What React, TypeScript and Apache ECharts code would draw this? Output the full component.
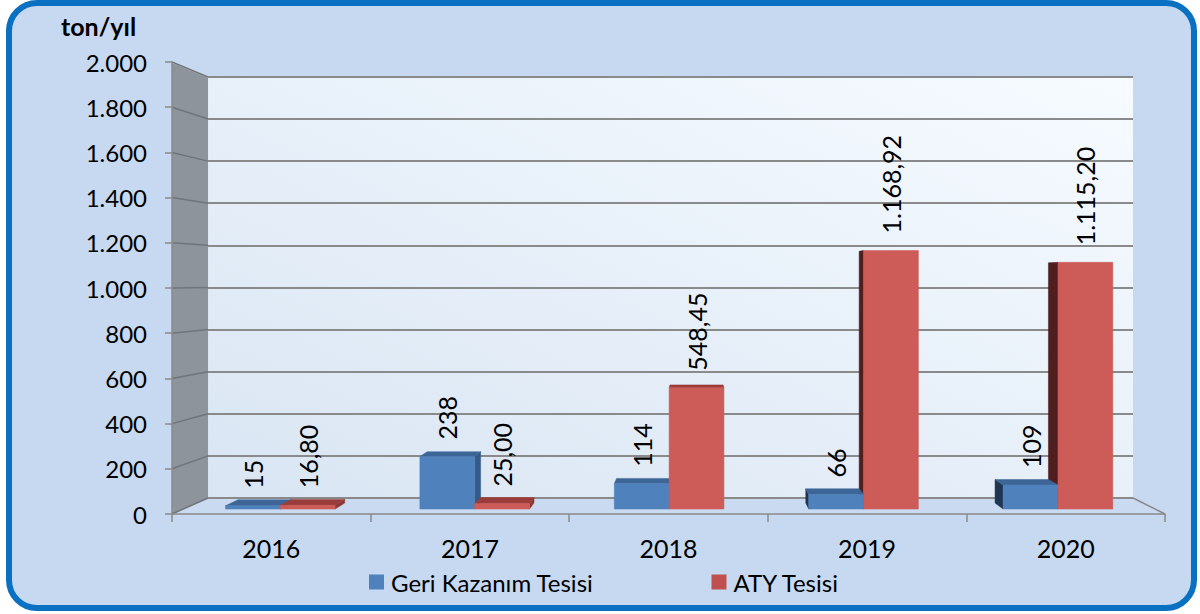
import React, { useEffect, useRef } from 'react';
import * as echarts from 'echarts';

// ---- data ----
const CATEGORIES = ['2016', '2017', '2018', '2019', '2020'];
const SERIES_NAMES = ['Geri Kazanım Tesisi', 'ATY Tesisi'];
const GERI_KAZANIM = [15, 238, 114, 66, 109];
const ATY = [16.8, 25.0, 548.45, 1168.92, 1115.2];
const Y_MIN = 0;
const Y_MAX = 2000;
const Y_STEP = 200;
const UNIT = 'ton/yıl';

// ---- layout / style ----
const W = 1200;
const H = 614;
const FRONT = { left: 172, right: 1165, top: 62, bottom: 514 };
const VP = [698, 280];
const DEPTH = 0.0685;
const BAR_KF = 0.021;
const BAR_KB = 0.047;
const BAR_FRAC = 0.282;
const FONT = 'Lato, "Open Sans", sans-serif';
const GRID_COLOR = '#8A8A8A';

const BLUE = { front: '#4F81BD', top: '#3D6697', right: '#345A88', left: '#1F3552' };
const RED = { front: '#CD5B57', top: '#9A3D3A', right: '#8E3835', left: '#4E1F1E' };

function proj(x: number, y: number, k: number): number[] {
  return [x + (VP[0] - x) * k, y + (VP[1] - y) * k];
}

function fmtNum(v: number, decimals: number): string {
  const fixed = v.toFixed(decimals);
  const parts = fixed.split('.');
  const intStr = parts[0].replace(/\B(?=(\d{3})+(?!\d))/g, '.');
  return parts[1] ? intStr + ',' + parts[1] : intStr;
}

function makeRender(side: number, colors: any, decimals: number) {
  return (params: any, api: any) => {
    const idx = api.value(0);
    const val = api.value(1);
    const base = api.coord([idx, 0]);
    const top = api.coord([idx, val]);
    const band = api.size([1, 0])[0];
    const w = band * BAR_FRAC;
    const xl = side === 0 ? base[0] - w : base[0];
    const xr = xl + w;
    const yb = base[1];
    const yt = top[1];
    const children: any[] = [];
    const poly = (pts: number[][], fill: string, z2: number) => ({
      type: 'polygon',
      shape: { points: pts },
      style: { fill, stroke: fill, lineWidth: 0.5 },
      z2,
    });
    if (xr <= VP[0]) {
      children.push(
        poly([proj(xr, yt, BAR_KF), proj(xr, yt, BAR_KB), proj(xr, yb, BAR_KB), proj(xr, yb, BAR_KF)], colors.right, 1)
      );
    } else if (xl >= VP[0]) {
      children.push(
        poly([proj(xl, yt, BAR_KF), proj(xl, yt, BAR_KB), proj(xl, yb, BAR_KB), proj(xl, yb, BAR_KF)], colors.left, 1)
      );
    }
    if (yt >= VP[1]) {
      children.push(
        poly([proj(xl, yt, BAR_KF), proj(xr, yt, BAR_KF), proj(xr, yt, BAR_KB), proj(xl, yt, BAR_KB)], colors.top, 2)
      );
    }
    children.push(
      poly([proj(xl, yt, BAR_KF), proj(xr, yt, BAR_KF), proj(xr, yb, BAR_KF), proj(xl, yb, BAR_KF)], colors.front, 10)
    );
    const lp = proj((xl + xr) / 2, yt, BAR_KF);
    children.push({
      type: 'text',
      x: lp[0],
      y: lp[1] - 17,
      rotation: Math.PI / 2,
      style: {
        text: fmtNum(val, decimals),
        fill: '#000',
        fontSize: 25,
        fontFamily: FONT,
        align: 'left',
        verticalAlign: 'middle',
      },
      z2: 20,
    });
    return { type: 'group', children };
  };
}

export default function App() {
  const ref = useRef<HTMLDivElement>(null);
  useEffect(() => {
    if (!ref.current) return;
    const chart = echarts.init(ref.current, undefined, { renderer: 'svg' });

    const bl = proj(FRONT.left, FRONT.bottom, DEPTH);
    const tl = proj(FRONT.left, FRONT.top, DEPTH);
    const br = proj(FRONT.right, FRONT.bottom, DEPTH);
    const back = { left: bl[0], top: tl[1], right: br[0], bottom: bl[1] };

    const ticks: number[] = [];
    for (let v = Y_MIN; v <= Y_MAX; v += Y_STEP) ticks.push(v);
    const yFront = (v: number) => FRONT.bottom - ((v - Y_MIN) / (Y_MAX - Y_MIN)) * (FRONT.bottom - FRONT.top);

    const graphics: any[] = [
      {
        type: 'rect',
        shape: { x: 9, y: 3, width: 1185, height: 605, r: 28 },
        style: { fill: '#C6D9F1', stroke: '#0A70C1', lineWidth: 6 },
        z: -10,
      },
      {
        type: 'polygon',
        shape: { points: [[FRONT.left, FRONT.bottom], [FRONT.right, FRONT.bottom], br, bl] },
        style: { fill: '#CADBF1' },
        z: -9,
      },
      {
        type: 'rect',
        shape: { x: back.left, y: back.top, width: back.right - back.left, height: back.bottom - back.top },
        style: {
          fill: {
            type: 'linear', x: 0, y: 1, x2: 1, y2: 0,
            colorStops: [
              { offset: 0, color: '#D9E5F3' },
              { offset: 1, color: '#F6FBFF' },
            ],
          },
        },
        z: -9,
      },
      {
        type: 'polygon',
        shape: { points: [[FRONT.left, FRONT.top], tl, bl, [FRONT.left, FRONT.bottom]] },
        style: { fill: '#8D949B' },
        z: -9,
      },
      {
        type: 'line',
        shape: { x1: br[0], y1: br[1], x2: FRONT.right, y2: FRONT.bottom },
        style: { stroke: GRID_COLOR, lineWidth: 1.5 },
        z: -8,
      },
      {
        type: 'line',
        shape: { x1: FRONT.left, y1: FRONT.top, x2: tl[0], y2: tl[1] },
        style: { stroke: '#E8EEF5', lineWidth: 1.5 },
        z: -8,
      },
      ...ticks.map((v) => {
        const yf = yFront(v);
        const p = proj(FRONT.left, yf, DEPTH);
        return {
          type: 'line',
          shape: { x1: FRONT.left, y1: yf, x2: p[0], y2: p[1] },
          style: { stroke: '#6F757B', lineWidth: 1.5 },
          z: -8,
        };
      }),
    ];

    chart.setOption({
      animation: false,
      backgroundColor: 'transparent',
      title: {
        text: UNIT,
        left: 61,
        top: 13,
        padding: 0,
        textStyle: { fontSize: 25, fontWeight: 'bold', fontFamily: FONT, color: '#000' },
      },
      legend: {
        left: 364,
        top: 565,
        icon: 'rect',
        itemWidth: 15,
        itemHeight: 15,
        itemGap: 118,
        data: SERIES_NAMES,
        textStyle: { fontSize: 24, fontFamily: FONT, color: '#000', padding: [0, 0, 0, 2] },
      },
      graphic: graphics,
      grid: [
        { left: FRONT.left, top: FRONT.top, width: FRONT.right - FRONT.left, height: FRONT.bottom - FRONT.top },
        { left: back.left, top: back.top, width: back.right - back.left, height: back.bottom - back.top },
      ],
      xAxis: [
        {
          type: 'category',
          gridIndex: 0,
          data: CATEGORIES,
          axisLine: { lineStyle: { color: GRID_COLOR, width: 1.5 } },
          axisTick: { show: true, length: 8, lineStyle: { color: GRID_COLOR, width: 1.5 } },
          axisLabel: { color: '#000', fontSize: 25, fontFamily: FONT, margin: 21 },
        },
        { type: 'category', gridIndex: 1, data: CATEGORIES, show: false },
      ],
      yAxis: [
        {
          type: 'value',
          gridIndex: 0,
          min: Y_MIN,
          max: Y_MAX,
          interval: Y_STEP,
          axisLine: { show: true, lineStyle: { color: GRID_COLOR, width: 1.5 } },
          axisTick: { show: true, length: 7, lineStyle: { color: GRID_COLOR, width: 1.5 } },
          splitLine: { show: false },
          axisLabel: {
            color: '#000',
            fontSize: 24,
            fontFamily: FONT,
            margin: 25,
            formatter: (v: number) => fmtNum(v, 0),
          },
        },
        {
          type: 'value',
          gridIndex: 1,
          min: Y_MIN,
          max: Y_MAX,
          interval: Y_STEP,
          axisLine: { show: false },
          axisTick: { show: false },
          axisLabel: { show: false },
          splitLine: { show: true, lineStyle: { color: GRID_COLOR, width: 2 } },
        },
      ],
      series: [
        {
          name: SERIES_NAMES[0],
          type: 'custom',
          xAxisIndex: 0,
          yAxisIndex: 0,
          itemStyle: { color: '#4F81BD' },
          encode: { x: 0, y: 1 },
          data: GERI_KAZANIM.map((v, i) => [i, v]),
          renderItem: makeRender(0, BLUE, 0),
        },
        {
          name: SERIES_NAMES[1],
          type: 'custom',
          xAxisIndex: 0,
          yAxisIndex: 0,
          itemStyle: { color: '#C0504D' },
          encode: { x: 0, y: 1 },
          data: ATY.map((v, i) => [i, v]),
          renderItem: makeRender(1, RED, 2),
        },
      ],
    });
    return () => chart.dispose();
  }, []);
  return (
    <div
      ref={ref}
      style={{ position: 'fixed', left: 0, top: 0, width: W, height: H, background: '#fff' }}
    />
  );
}
